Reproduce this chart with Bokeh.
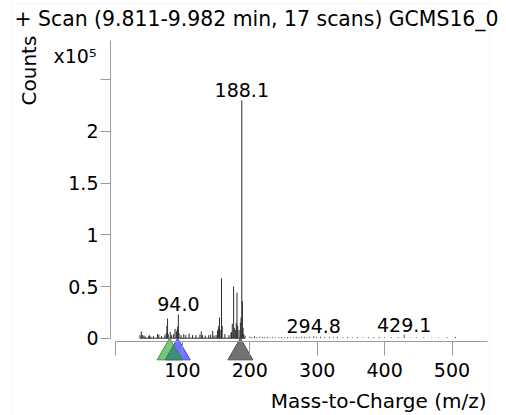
import numpy as np
from bokeh.plotting import figure
from bokeh.models import (Label, Range1d, FixedTicker, CustomJSTickFormatter,
                          ColumnDataSource, BoxAnnotation)
from bokeh.embed import file_html
from bokeh.resources import INLINE
from bokeh.core.properties import value

# ---------------- data ----------------
title_text = "+ Scan (9.811-9.982 min, 17 scans) GCMS16_0"
x_label = "Mass-to-Charge (m/z)"
y_label = "Counts"
y_scale_label = "x10\u2075"

# dense region of the stick spectrum (continuous baseline)
mz_low = [37, 39, 41, 43, 45, 50, 51, 53, 57, 63, 65, 69, 74, 76, 77, 78, 79,
          82, 84, 87, 89, 91, 92, 93, 94.0, 95, 98, 102, 105, 110, 115, 120,
          126, 128, 130, 134, 139, 142, 145, 147, 150, 152, 153, 154, 155, 156,
          158, 159, 163, 169, 172, 173, 174, 176, 177, 179, 180, 181, 182, 184,
          186, 187, 188.1, 189, 190, 191, 193]
counts_low = [3000, 6500, 3000, 2500, 1500, 2000, 3000, 1500, 2000, 4000, 3500,
              2000, 3000, 5000, 12000, 19000, 4000, 6000, 3000, 4000, 9000,
              6000, 8000, 11000, 23000, 5000, 3000, 4000, 3000, 4500, 3000,
              3000, 3500, 6500, 3000, 2500, 3000, 3500, 7000, 2500, 3000, 7000,
              9000, 12000, 20000, 8000, 58000, 12000, 4000, 3000, 5000, 6000,
              14000, 50000, 10000, 8000, 15000, 44000, 12000, 8000, 15000,
              20000, 230000, 36000, 10000, 4000, 2500]

# sparse region (dotted look)
mz_high = [200, 203, 207, 210, 215, 219, 222, 226, 230, 234, 238, 243, 247,
           252, 256, 260, 265, 269, 273, 277, 281, 285, 289, 294.8, 299, 305,
           311, 318, 324, 330, 338, 345, 352, 360, 368, 376, 384, 392, 400,
           410, 420, 429.1, 438, 447, 458, 470, 480, 493, 505]
counts_high = [1500, 1200, 2000, 1000, 1500, 1200, 1000, 1400, 900, 1100, 800,
               1000, 1300, 900, 1200, 800, 1000, 1200, 900, 1500, 1300, 1000,
               1500, 2000, 1200, 1500, 1000, 1300, 1000, 1500, 900, 1100, 800,
               1000, 800, 1000, 900, 1200, 800, 1000, 800, 3500, 700, 900, 800,
               600, 700, 800, 1200]

label_mz = [94.0, 188.1, 294.8, 429.1]
label_counts = [23000, 230000, 2000, 3500]

marker_mz = [93, 81, 186]
marker_fill = ["#0000ff", "#1f9e1f", "#6a6a6a"]
marker_line = ["#3333ff", "#2e8b2e", "#444444"]
marker_alpha = [0.55, 0.6, 0.95]

x_ticks = [0, 100, 200, 300, 400, 500]
y_ticks = [0, 50000, 100000, 150000, 200000, 250000]

# ---------------- geometry (canvas pixels) ----------------
W, H = 504, 414
AX_L, AX_R, AX_T = 110, 487, 40       # y-axis x, x-axis end, y-axis top
X_AXIS_PX = 341                       # x-axis line
X0_PX, X_SLOPE = 114.5, 0.674         # pixel of m/z 0, px per m/z unit
Y0_PX, Y_SLOPE = 337.7, 103.4 / 1e5   # pixel of 0 counts, px per count
SHIFT = 9                             # baseline correction of svg text


def xd(px):
    return (px - X0_PX) / X_SLOPE


def yd(py):
    return (Y0_PX - py) / Y_SLOPE


FONT = "DejaVu Sans"

# the frame fills the whole canvas; axes are drawn at fixed locations inside
p = figure(width=W, height=H, output_backend="svg", toolbar_location=None,
           x_range=Range1d(xd(0), xd(W)), y_range=Range1d(yd(H), yd(0)),
           min_border_left=0, min_border_right=0, min_border_top=0,
           min_border_bottom=0)
p.title.text = ""
p.outline_line_color = None
p.xgrid.visible = False
p.ygrid.visible = False
p.background_fill_color = "white"
p.border_fill_color = "white"

axc = "#9a9a9a"
# y axis
ya = p.yaxis[0]
ya.ticker = FixedTicker(ticks=y_ticks)
ya.formatter = CustomJSTickFormatter(
    code="return tick >= 250000 ? '' : String(tick / 1e5);")
ya.fixed_location = xd(AX_L)
ya.bounds = (0, yd(AX_T))
ya.axis_line_color = axc
ya.major_tick_line_color = axc
ya.major_tick_out = 10
ya.major_tick_in = 0
ya.minor_tick_line_color = None
ya.major_label_standoff = 2
ya.major_label_text_font = FONT
ya.major_label_text_font_size = "19px"
ya.major_label_text_color = "black"

# x axis
xa = p.xaxis[0]
xa.ticker = FixedTicker(ticks=x_ticks)
xa.formatter = CustomJSTickFormatter(
    code="return tick == 0 ? '' : tick.toFixed(0);")
xa.fixed_location = yd(X_AXIS_PX)
xa.bounds = (0, xd(AX_R))
xa.axis_line_color = axc
xa.major_tick_line_color = axc
xa.major_tick_out = 14
xa.major_tick_in = 0
xa.minor_tick_line_color = None
xa.major_label_standoff = 7
xa.major_label_text_font = FONT
xa.major_label_text_font_size = "19px"
xa.major_label_text_color = "black"

# faint panel border
p.add_layout(BoxAnnotation(left=12, right=489, top=H - 3, bottom=-10,
                           left_units="screen", right_units="screen",
                           top_units="screen", bottom_units="screen",
                           fill_alpha=0, line_color="#e2e2e2", line_width=1))

# spectrum
p.line(x=[min(mz_low), max(mz_low)], y=[0, 0], line_color="#333333",
       line_width=1)
p.segment(x0=mz_low, y0=0, x1=mz_low, y1=counts_low, line_color="#2b2b2b",
          line_width=1)
p.segment(x0=mz_high, y0=0, x1=mz_high, y1=counts_high, line_color="#555555",
          line_width=1)

# triangle markers below the axis (apex at zero)
TRI = 25
tri_h = TRI / 2 * np.sqrt(3)
tri_y = -(2 * tri_h / 3) / Y_SLOPE
src = ColumnDataSource(dict(x=marker_mz, y=[tri_y] * len(marker_mz),
                            f=marker_fill, l=marker_line, a=marker_alpha))
p.scatter(x="x", y="y", source=src, marker="triangle", size=TRI,
          fill_color="f", line_color="l", fill_alpha="a", line_alpha=0.9,
          line_width=1)

# peak labels
p.text(x=label_mz, y=label_counts, text=["%.1f" % m for m in label_mz],
       text_align="center", text_baseline="alphabetic", y_offset=-SHIFT - 1,
       text_font=value(FONT), text_font_size="19px", text_color="black")


# other texts (screen units: x from left, y from bottom of the canvas frame)
def lab(text, X, Y, size, angle=0.0, align="left"):
    if angle:
        X = X - SHIFT
    else:
        Y = Y - SHIFT
    p.add_layout(Label(x=X, y=H - Y, x_units="screen", y_units="screen",
                       text=text, angle=angle, text_align=align,
                       text_baseline="alphabetic", text_font=FONT,
                       text_font_size=size, text_color="black"))


lab(title_text, 14, 27, "20.4px")
lab(y_label, 37, 105, "20px", angle=np.pi / 2)
lab(y_scale_label, 53, 64, "19px")
lab(x_label, 486, 409, "20px", align="right")

open("out.html", "w").write(file_html(p, INLINE))
